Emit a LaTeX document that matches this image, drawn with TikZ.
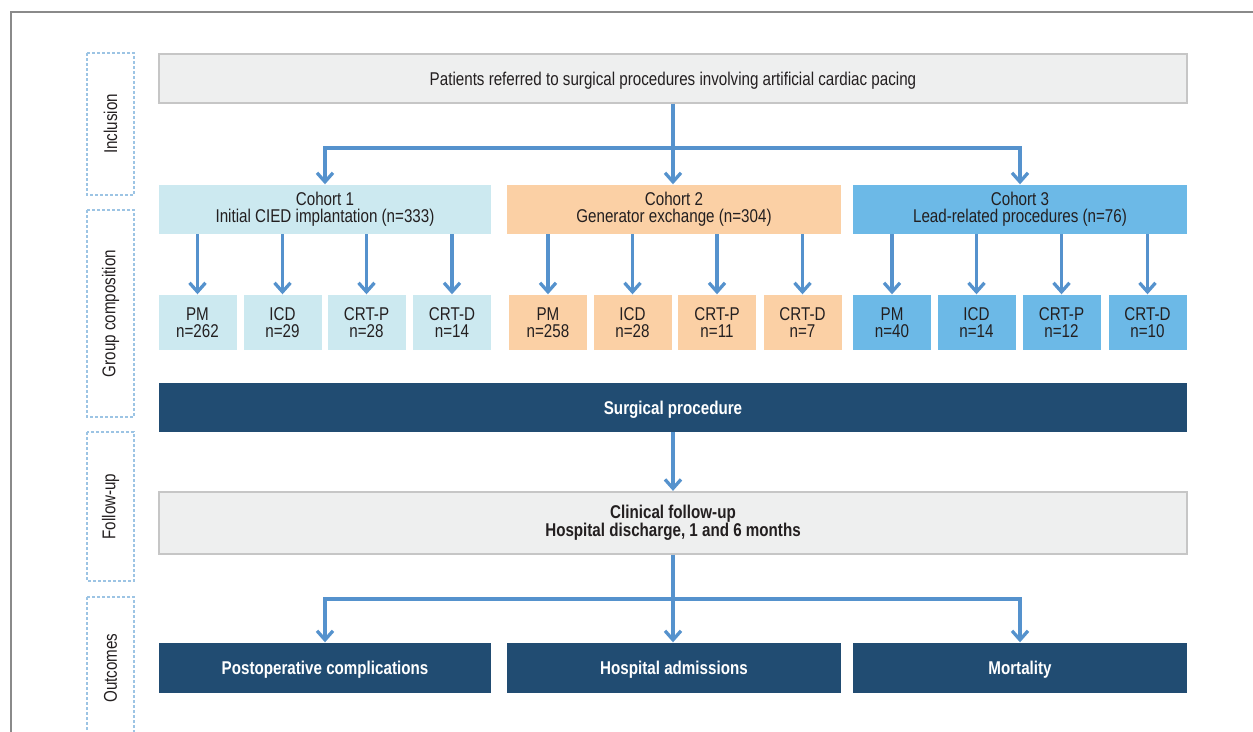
\documentclass[tikz,border=0pt]{standalone}
\usepackage{fontspec}
\setmainfont{Liberation Sans}[FakeStretch=0.82]
\usetikzlibrary{arrows.meta}
\definecolor{txt}{HTML}{231F20}
\definecolor{greyfill}{HTML}{EEEFEF}
\definecolor{greyline}{HTML}{C6C6C6}
\definecolor{cyanfill}{HTML}{CCE9F0}
\definecolor{peachfill}{HTML}{FBD0A5}
\definecolor{bluefill}{HTML}{6CB9E7}
\definecolor{navy}{HTML}{214C72}
\definecolor{arrowc}{HTML}{5592CD}
\definecolor{dashc}{HTML}{9CC4E4}
\definecolor{framec}{HTML}{8A8A8A}
\tikzset{
  every node/.style={font=\fontsize{18.5}{17.2}\selectfont, text=txt, align=center, inner sep=0pt},
  greybox/.style={fill=greyfill, draw=greyline, line width=1.2pt},
  c1box/.style={fill=cyanfill, draw=none},
  c2box/.style={fill=peachfill, draw=none},
  c3box/.style={fill=bluefill, draw=none},
  navybox/.style={fill=navy, draw=none, text=white, font=\fontsize{18.5}{17.2}\selectfont\bfseries},
  single/.style={text depth=0pt},
  labelbox/.style={draw=dashc, line width=1.2pt, dash pattern=on 3pt off 2pt, rotate=90, minimum height=47pt},
  conn/.style={draw=arrowc, line width=3.3pt, -{Straight Barb[length=9pt,width=16pt]}, shorten >=0.5pt},
  cohort/.style={minimum height=49pt},
  sub/.style={minimum height=55pt, minimum width=78pt},
}
\begin{document}
\begin{tikzpicture}[x=1pt,y=-1pt]
\useasboundingbox (0,0) rectangle (1253,731);
\begin{scope}
\clip (0,0) rectangle (1253,731);
% outer frame
\draw[framec, line width=1.5pt] (11,760) -- (11,12) -- (1260,12);
% stage labels
\node[labelbox, minimum width=142pt] (lab1) at (110.5,124) {Inclusion};
\node[labelbox, minimum width=207pt] (lab2) at (110.5,313.5) {Group composition};
\node[labelbox, minimum width=149pt] (lab3) at (110.5,506.5) {Follow-up};
\node[labelbox, minimum width=142pt] (lab4) at (110.5,668) {Outcomes};

% inclusion
\node[greybox, single, minimum width=1028pt, minimum height=49pt] (top) at (673,78.5) {Patients referred to surgical procedures involving artificial cardiac pacing};

% cohorts
\node[c1box, cohort, minimum width=332pt] (c1) at (325,209.5) {Cohort 1\\Initial CIED implantation (n=333)};
\node[c2box, cohort, minimum width=334pt] (c2) at (674,209.5) {Cohort 2\\Generator exchange (n=304)};
\node[c3box, cohort, minimum width=334pt] (c3) at (1020,209.5) {Cohort 3\\Lead-related procedures (n=76)};

% sub groups
\node[c1box, sub] (s11) at (197.5,322.5) {PM\\n=262};
\node[c1box, sub] (s12) at (282.5,322.5) {ICD\\n=29};
\node[c1box, sub] (s13) at (366.5,322.5) {CRT-P\\n=28};
\node[c1box, sub] (s14) at (452,322.5) {CRT-D\\n=14};
\node[c2box, sub] (s21) at (548,322.5) {PM\\n=258};
\node[c2box, sub] (s22) at (632.5,322.5) {ICD\\n=28};
\node[c2box, sub] (s23) at (717,322.5) {CRT-P\\n=11};
\node[c2box, sub] (s24) at (802.5,322.5) {CRT-D\\n=7};
\node[c3box, sub] (s31) at (892,322.5) {PM\\n=40};
\node[c3box, sub] (s32) at (976.5,322.5) {ICD\\n=14};
\node[c3box, sub] (s33) at (1061.5,322.5) {CRT-P\\n=12};
\node[c3box, sub] (s34) at (1147.5,322.5) {CRT-D\\n=10};

% surgical procedure
\node[navybox, single, minimum width=1028pt, minimum height=49pt] (surg) at (673,407.5) {Surgical procedure};

% follow-up
\node[greybox, minimum width=1028pt, minimum height=62pt, font=\fontsize{18.5}{17.2}\selectfont\bfseries] (fu) at (673,523) {Clinical follow-up\\Hospital discharge, 1 and 6 months};

% outcomes
\node[navybox, single, minimum width=332pt, minimum height=50pt] (o1) at (325,668) {Postoperative complications};
\node[navybox, single, minimum width=334pt, minimum height=50pt] (o2) at (674,668) {Hospital admissions};
\node[navybox, single, minimum width=334pt, minimum height=50pt] (o3) at (1020,668) {Mortality};

% connectors
\coordinate (j1) at (673,148);
\draw[conn] (top.south) -- (top.south |- c2.north);
\draw[conn] (j1) -| (c1.north);
\draw[conn] (j1) -| (c3.north);

\foreach \c/\s in {c1/s11,c1/s12,c1/s13,c1/s14,c2/s21,c2/s22,c2/s23,c2/s24,c3/s31,c3/s32,c3/s33,c3/s34}{
  \draw[conn] (\s.north |- \c.south) -- (\s.north);
}

\draw[conn] (surg.south) -- (fu.north);
\coordinate (j2) at (673,599);
\draw[conn] (fu.south) -- (fu.south |- o2.north);
\draw[conn] (j2) -| (o1.north);
\draw[conn] (j2) -| (o3.north);
\end{scope}
\end{tikzpicture}
\end{document}
